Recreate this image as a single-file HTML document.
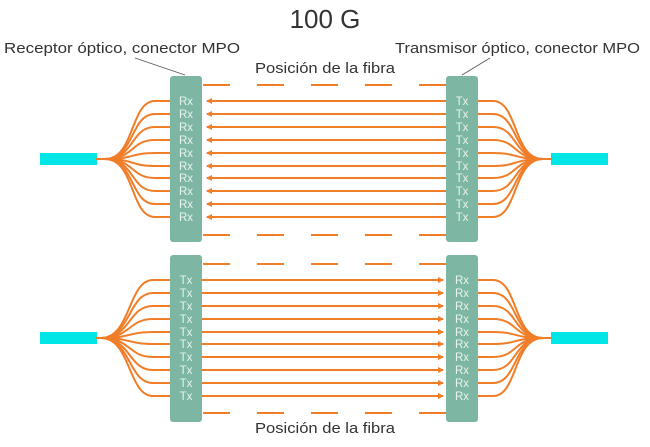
<!DOCTYPE html>
<html><head><meta charset="utf-8"><style>
html,body{margin:0;padding:0;background:#fff;width:650px;height:447px;overflow:hidden}
svg{display:block}
text{font-family:"Liberation Sans",sans-serif}
.t{fill:#e6f3ee;font-size:11.5px;text-anchor:middle}
.o{stroke:#f07d28;stroke-width:2;fill:none}
.d{stroke:#f07d28;stroke-width:2;stroke-dasharray:27 27;fill:none}
</style></head><body>
<svg width="650" height="447" viewBox="0 0 650 447">
<defs>
<marker id="ar" markerWidth="6" markerHeight="6" refX="5" refY="3" orient="auto" markerUnits="userSpaceOnUse"><path d="M0,0 L6,3 L0,6 z" fill="#f07d28"/></marker>
</defs>
<text x="325" y="28" font-size="26" fill="#333" text-anchor="middle">100 G</text>
<text x="4" y="53" font-size="15" fill="#333" textLength="236" lengthAdjust="spacingAndGlyphs">Receptor óptico, conector MPO</text>
<text x="395" y="53" font-size="15" fill="#333" textLength="245" lengthAdjust="spacingAndGlyphs">Transmisor óptico, conector MPO</text>
<line x1="135" y1="58" x2="185" y2="75" stroke="#555" stroke-width="0.8"/>
<line x1="490" y1="58" x2="462" y2="75" stroke="#555" stroke-width="0.8"/>
<text x="255" y="73" font-size="15" fill="#333" textLength="140" lengthAdjust="spacingAndGlyphs">Posición de la fibra</text>
<text x="255" y="433" font-size="15" fill="#333" textLength="140" lengthAdjust="spacingAndGlyphs">Posición de la fibra</text>

<!-- cables -->
<rect x="40" y="153" width="57" height="12" fill="#00e5e5"/>
<rect x="551" y="153" width="57" height="12" fill="#00e5e5"/>
<rect x="40" y="332" width="57" height="12" fill="#00e5e5"/>
<rect x="551" y="332" width="57" height="12" fill="#00e5e5"/>
<line x1="96" y1="159" x2="107" y2="159" class="o"/>
<line x1="541" y1="159" x2="552" y2="159" class="o"/>
<line x1="96" y1="338" x2="104" y2="338" class="o"/>
<line x1="541" y1="338" x2="552" y2="338" class="o"/>

<g class="o">
<path d="M105,159 C135,159 130,101 155,101 L172,101"/>
<path d="M105,159 C135,159 130,114 155,114 L172,114"/>
<path d="M105,159 C135,159 130,127 155,127 L172,127"/>
<path d="M105,159 C135,159 130,140 155,140 L172,140"/>
<path d="M105,159 C135,159 130,153 155,153 L172,153"/>
<path d="M105,159 C135,159 130,166 155,166 L172,166"/>
<path d="M105,159 C135,159 130,178 155,178 L172,178"/>
<path d="M105,159 C135,159 130,191 155,191 L172,191"/>
<path d="M105,159 C135,159 130,204 155,204 L172,204"/>
<path d="M105,159 C135,159 130,217 155,217 L172,217"/>
<path d="M543,159 C513,159 518,101 493,101 L476,101"/>
<path d="M543,159 C513,159 518,114 493,114 L476,114"/>
<path d="M543,159 C513,159 518,127 493,127 L476,127"/>
<path d="M543,159 C513,159 518,140 493,140 L476,140"/>
<path d="M543,159 C513,159 518,153 493,153 L476,153"/>
<path d="M543,159 C513,159 518,166 493,166 L476,166"/>
<path d="M543,159 C513,159 518,178 493,178 L476,178"/>
<path d="M543,159 C513,159 518,191 493,191 L476,191"/>
<path d="M543,159 C513,159 518,204 493,204 L476,204"/>
<path d="M543,159 C513,159 518,217 493,217 L476,217"/>
<path d="M101,338 C131,338 128,280 153,280 L172,280"/>
<path d="M101,338 C131,338 128,293 153,293 L172,293"/>
<path d="M101,338 C131,338 128,306 153,306 L172,306"/>
<path d="M101,338 C131,338 128,319 153,319 L172,319"/>
<path d="M101,338 C131,338 128,332 153,332 L172,332"/>
<path d="M101,338 C131,338 128,344 153,344 L172,344"/>
<path d="M101,338 C131,338 128,357 153,357 L172,357"/>
<path d="M101,338 C131,338 128,370 153,370 L172,370"/>
<path d="M101,338 C131,338 128,383 153,383 L172,383"/>
<path d="M101,338 C131,338 128,396 153,396 L172,396"/>
<path d="M543,338 C513,338 518,280 493,280 L476,280"/>
<path d="M543,338 C513,338 518,293 493,293 L476,293"/>
<path d="M543,338 C513,338 518,306 493,306 L476,306"/>
<path d="M543,338 C513,338 518,319 493,319 L476,319"/>
<path d="M543,338 C513,338 518,332 493,332 L476,332"/>
<path d="M543,338 C513,338 518,344 493,344 L476,344"/>
<path d="M543,338 C513,338 518,357 493,357 L476,357"/>
<path d="M543,338 C513,338 518,370 493,370 L476,370"/>
<path d="M543,338 C513,338 518,383 493,383 L476,383"/>
<path d="M543,338 C513,338 518,396 493,396 L476,396"/>
</g>

<g class="o" marker-end="url(#ar)">
<line x1="446" y1="101" x2="207" y2="101"/>
<line x1="446" y1="114" x2="207" y2="114"/>
<line x1="446" y1="127" x2="207" y2="127"/>
<line x1="446" y1="140" x2="207" y2="140"/>
<line x1="446" y1="153" x2="207" y2="153"/>
<line x1="446" y1="166" x2="207" y2="166"/>
<line x1="446" y1="178" x2="207" y2="178"/>
<line x1="446" y1="191" x2="207" y2="191"/>
<line x1="446" y1="204" x2="207" y2="204"/>
<line x1="446" y1="217" x2="207" y2="217"/>
<line x1="202" y1="280" x2="443" y2="280"/>
<line x1="202" y1="293" x2="443" y2="293"/>
<line x1="202" y1="306" x2="443" y2="306"/>
<line x1="202" y1="319" x2="443" y2="319"/>
<line x1="202" y1="332" x2="443" y2="332"/>
<line x1="202" y1="344" x2="443" y2="344"/>
<line x1="202" y1="357" x2="443" y2="357"/>
<line x1="202" y1="370" x2="443" y2="370"/>
<line x1="202" y1="383" x2="443" y2="383"/>
<line x1="202" y1="396" x2="443" y2="396"/>
</g>
<path class="d" d="M203,85 L447,85 M203,235 L447,235 M203,264 L447,264 M203,413 L447,413"/>

<rect x="170" y="76" width="32" height="166" rx="3" fill="#7db7a3"/>
<rect x="446" y="76" width="32" height="166" rx="3" fill="#7db7a3"/>
<rect x="170" y="255" width="32" height="167" rx="3" fill="#7db7a3"/>
<rect x="446" y="255" width="32" height="167" rx="3" fill="#7db7a3"/>

<g class="t">
<text x="186" y="105">Rx</text><text x="186" y="118">Rx</text><text x="186" y="131">Rx</text><text x="186" y="144">Rx</text><text x="186" y="157">Rx</text><text x="186" y="170">Rx</text><text x="186" y="182">Rx</text><text x="186" y="195">Rx</text><text x="186" y="208">Rx</text><text x="186" y="221">Rx</text>
<text x="462" y="105">Tx</text><text x="462" y="118">Tx</text><text x="462" y="131">Tx</text><text x="462" y="144">Tx</text><text x="462" y="157">Tx</text><text x="462" y="170">Tx</text><text x="462" y="182">Tx</text><text x="462" y="195">Tx</text><text x="462" y="208">Tx</text><text x="462" y="221">Tx</text>
<text x="186" y="284">Tx</text><text x="186" y="297">Tx</text><text x="186" y="310">Tx</text><text x="186" y="323">Tx</text><text x="186" y="336">Tx</text><text x="186" y="348">Tx</text><text x="186" y="361">Tx</text><text x="186" y="374">Tx</text><text x="186" y="387">Tx</text><text x="186" y="400">Tx</text>
<text x="462" y="284">Rx</text><text x="462" y="297">Rx</text><text x="462" y="310">Rx</text><text x="462" y="323">Rx</text><text x="462" y="336">Rx</text><text x="462" y="348">Rx</text><text x="462" y="361">Rx</text><text x="462" y="374">Rx</text><text x="462" y="387">Rx</text><text x="462" y="400">Rx</text>
</g>
</svg>
</body></html>
